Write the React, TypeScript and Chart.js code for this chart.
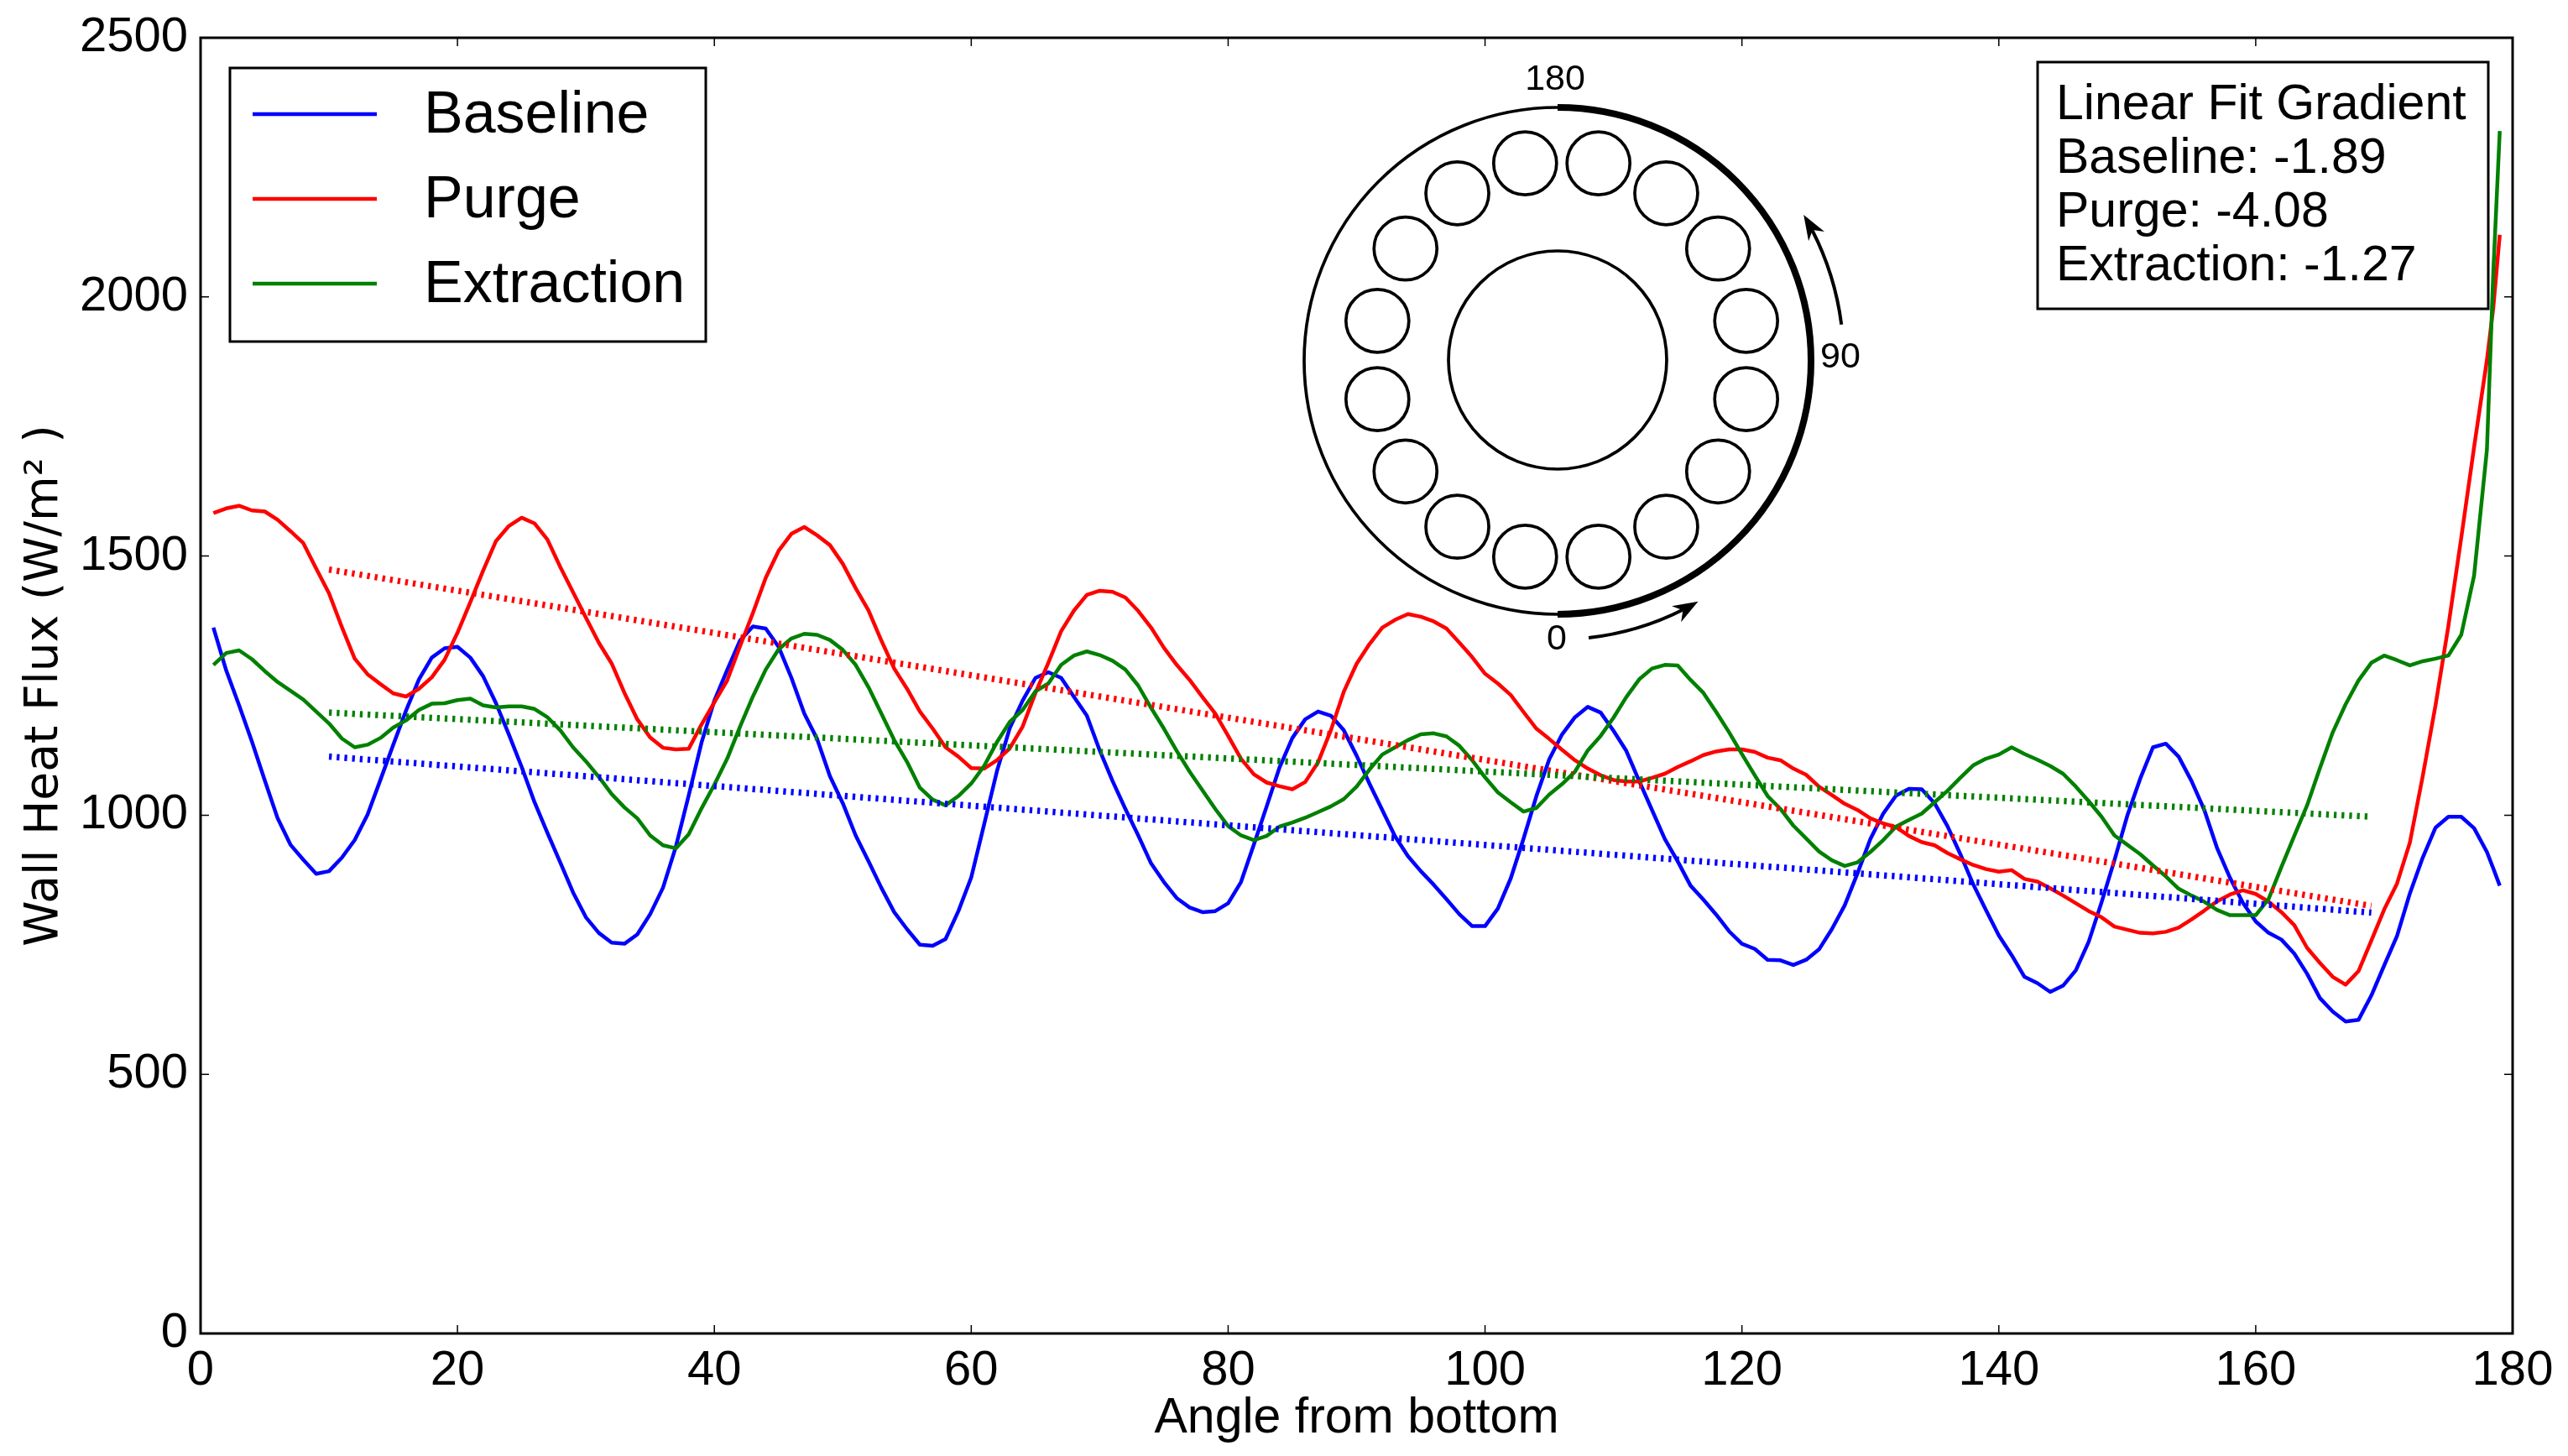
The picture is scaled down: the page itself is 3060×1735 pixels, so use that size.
import { useEffect, useRef } from 'react'
import Chart from 'chart.js/auto'

// angle samples (degrees from bottom)
const ANGLES = [
  1, 2, 3, 4, 5, 6, 7, 8, 9, 10, 11, 12, 13, 14, 15, 16, 17, 18, 19, 20,
  21, 22, 23, 24, 25, 26, 27, 28, 29, 30, 31, 32, 33, 34, 35, 36, 37, 38, 39, 40,
  41, 42, 43, 44, 45, 46, 47, 48, 49, 50, 51, 52, 53, 54, 55, 56, 57, 58, 59, 60,
  61, 62, 63, 64, 65, 66, 67, 68, 69, 70, 71, 72, 73, 74, 75, 76, 77, 78, 79, 80,
  81, 82, 83, 84, 85, 86, 87, 88, 89, 90, 91, 92, 93, 94, 95, 96, 97, 98, 99, 100,
  101, 102, 103, 104, 105, 106, 107, 108, 109, 110, 111, 112, 113, 114, 115, 116, 117, 118, 119, 120,
  121, 122, 123, 124, 125, 126, 127, 128, 129, 130, 131, 132, 133, 134, 135, 136, 137, 138, 139, 140,
  141, 142, 143, 144, 145, 146, 147, 148, 149, 150, 151, 152, 153, 154, 155, 156, 157, 158, 159, 160,
  161, 162, 163, 164, 165, 166, 167, 168, 169, 170, 171, 172, 173, 174, 175, 176, 177, 178, 178.5, 179,
]

const BASELINE = [
  1362, 1279, 1212, 1142, 1067, 994, 943, 914, 887, 892, 918, 952, 1001, 1068, 1136, 1202, 1262, 1304, 1322, 1325,
  1304, 1268, 1216, 1156, 1093, 1025, 966, 909, 851, 803, 773, 754, 752, 770, 809, 860, 939, 1038, 1140, 1221,
  1280, 1337, 1364, 1360, 1325, 1265, 1196, 1147, 1075, 1023, 961, 911, 860, 813, 780, 750, 748, 761, 815, 880,
  982, 1085, 1168, 1221, 1265, 1276, 1265, 1228, 1192, 1125, 1066, 1012, 961, 907, 871, 840, 822, 813, 815, 830,
  871, 943, 1017, 1092, 1149, 1185, 1200, 1192, 1164, 1115, 1061, 1010, 959, 921, 892, 866, 838, 809, 786, 786,
  820, 878, 955, 1037, 1108, 1156, 1189, 1209, 1198, 1163, 1124, 1066, 1010, 954, 911, 864, 837, 808, 776, 752,
  742, 721, 720, 711, 721, 741, 780, 826, 888, 954, 1003, 1038, 1051, 1050, 1023, 979, 925, 867, 817, 768,
  730, 688, 676, 659, 671, 701, 756, 832, 913, 999, 1070, 1131, 1138, 1113, 1066, 1010, 936, 879, 831, 795,
  773, 760, 733, 694, 647, 621, 602, 605, 652, 710, 767, 849, 918, 976, 997, 997, 975, 929, 897, 864,
]

const PURGE = [
  1583, 1592, 1597, 1588, 1586, 1570, 1548, 1525, 1476, 1428, 1363, 1302, 1272, 1253, 1235, 1229, 1244, 1266, 1300, 1352,
  1411, 1472, 1529, 1558, 1574, 1563, 1532, 1479, 1430, 1381, 1333, 1293, 1236, 1185, 1150, 1130, 1127, 1128, 1175, 1218,
  1260, 1326, 1390, 1458, 1510, 1543, 1556, 1540, 1521, 1485, 1438, 1395, 1337, 1283, 1244, 1200, 1167, 1131, 1113, 1091,
  1090, 1106, 1129, 1171, 1236, 1294, 1355, 1395, 1425, 1433, 1431, 1420, 1394, 1362, 1323, 1290, 1261, 1228, 1196, 1153,
  1109, 1079, 1063, 1056, 1050, 1064, 1102, 1164, 1238, 1292, 1330, 1362, 1377, 1388, 1383, 1374, 1360, 1333, 1305, 1273,
  1254, 1232, 1199, 1167, 1147, 1126, 1106, 1090, 1077, 1068, 1065, 1065, 1072, 1080, 1093, 1104, 1116, 1123, 1127, 1127,
  1122, 1111, 1106, 1090, 1078, 1055, 1039, 1022, 1010, 994, 984, 977, 960, 948, 942, 927, 915, 904, 896, 891,
  894, 877, 872, 859, 845, 830, 815, 803, 785, 779, 773, 772, 775, 783, 799, 816, 834, 847, 855, 848,
  833, 813, 788, 744, 715, 688, 673, 699, 758, 818, 868, 947, 1075, 1212, 1365, 1535, 1710, 1878, 1980, 2120,
]

const EXTRACTION = [
  1290, 1313, 1318, 1301, 1278, 1257, 1240, 1223, 1200, 1177, 1148, 1131, 1136, 1149, 1169, 1183, 1203, 1215, 1216, 1222,
  1225, 1212, 1208, 1210, 1210, 1205, 1189, 1164, 1131, 1104, 1074, 1041, 1015, 994, 961, 942, 936, 963, 1013, 1059,
  1109, 1171, 1229, 1281, 1320, 1341, 1350, 1348, 1338, 1319, 1290, 1247, 1196, 1145, 1103, 1053, 1030, 1019, 1037, 1061,
  1095, 1141, 1180, 1203, 1239, 1254, 1290, 1308, 1316, 1309, 1298, 1281, 1250, 1207, 1167, 1124, 1084, 1048, 1012, 979,
  961, 952, 960, 978, 986, 995, 1006, 1017, 1031, 1055, 1088, 1117, 1131, 1145, 1156, 1158, 1152, 1134, 1106, 1073,
  1044, 1025, 1007, 1014, 1040, 1060, 1084, 1125, 1153, 1188, 1228, 1262, 1283, 1290, 1289, 1261, 1236, 1199, 1160, 1118,
  1077, 1037, 1012, 980, 955, 930, 913, 902, 909, 929, 952, 978, 991, 1003, 1025, 1047, 1072, 1096, 1109, 1117,
  1131, 1118, 1107, 1095, 1080, 1055, 1027, 997, 961, 943, 925, 903, 882, 858, 845, 833, 817, 807, 807, 807,
  838, 900, 960, 1019, 1091, 1160, 1214, 1260, 1294, 1308, 1299, 1289, 1297, 1302, 1308, 1348, 1462, 1705, 2050, 2320,
]

// linear fit end points
const FIT_ANGLES = [10, 169]
const BASELINE_FIT = [1113, 812]
const PURGE_FIT = [1474, 825]
const EXTRACTION_FIT = [1198, 997]

const SERIES_LABELS = ['Baseline', 'Purge', 'Extraction']
const SERIES_COLORS = ['#0000ff', '#ff0000', '#008000']
const GRADIENTS = [-1.89, -4.08, -1.27]

const X_TICKS = [0, 20, 40, 60, 80, 100, 120, 140, 160, 180]
const Y_TICKS = [0, 500, 1000, 1500, 2000, 2500]

const SANS = '"Liberation Sans", Arial, sans-serif'

const framePlugin = {
  id: 'frame',
  afterDraw(chart: any) {
    const { ctx, chartArea: a, scales } = chart
    ctx.save()
    ctx.strokeStyle = '#000'
    ctx.lineWidth = 1.5
    ctx.beginPath()
    for (const v of X_TICKS) {
      const px = scales.x.getPixelForValue(v)
      ctx.moveTo(px, a.bottom)
      ctx.lineTo(px, a.bottom - 10)
      ctx.moveTo(px, a.top)
      ctx.lineTo(px, a.top + 10)
    }
    for (const v of Y_TICKS) {
      const py = scales.y.getPixelForValue(v)
      ctx.moveTo(a.left, py)
      ctx.lineTo(a.left + 10, py)
      ctx.moveTo(a.right, py)
      ctx.lineTo(a.right - 10, py)
    }
    ctx.stroke()
    ctx.lineWidth = 3
    ctx.strokeRect(a.left, a.top, a.right - a.left, a.bottom - a.top)
    ctx.restore()
  },
}

function arcArrow(ctx: CanvasRenderingContext2D, cx: number, cy: number, r: number, from: number, to: number) {
  const t0 = (from * Math.PI) / 180
  const t1 = (to * Math.PI) / 180
  const ccw = to < from
  const sgn = ccw ? -1 : 1
  const tip = [cx + r * Math.cos(t1), cy + r * Math.sin(t1)]
  const d = [-Math.sin(t1) * sgn, Math.cos(t1) * sgn]
  const n = [-d[1], d[0]]
  const L = 30
  const W = 11
  ctx.lineWidth = 4
  ctx.beginPath()
  ctx.arc(cx, cy, r, t0, t1 - sgn * ((L * 0.7) / r), ccw)
  ctx.stroke()
  const bx = tip[0] - d[0] * L
  const by = tip[1] - d[1] * L
  ctx.beginPath()
  ctx.moveTo(tip[0], tip[1])
  ctx.lineTo(bx + n[0] * W, by + n[1] * W)
  ctx.lineTo(tip[0] - d[0] * L * 0.7, tip[1] - d[1] * L * 0.7)
  ctx.lineTo(bx - n[0] * W, by - n[1] * W)
  ctx.closePath()
  ctx.fill()
}

// pipe cross-section sketch
const insetPlugin = {
  id: 'inset',
  afterDraw(chart: any) {
    const { ctx, chartArea: a } = chart
    const cx = a.left + 1617
    const cy = a.top + 385
    ctx.save()
    ctx.strokeStyle = '#000'
    ctx.fillStyle = '#000'
    ctx.lineWidth = 3.7
    ctx.beginPath()
    ctx.arc(cx, cy, 302, 0, Math.PI * 2)
    ctx.stroke()
    ctx.lineWidth = 8
    ctx.beginPath()
    ctx.arc(cx, cy, 302, -Math.PI / 2, Math.PI / 2)
    ctx.stroke()
    ctx.lineWidth = 3.7
    ctx.beginPath()
    ctx.arc(cx, cy - 1, 130, 0, Math.PI * 2)
    ctx.stroke()
    for (let k = 0; k < 16; k++) {
      const th = ((11.25 + 22.5 * k) * Math.PI) / 180
      const px = cx + 5 + 224 * Math.sin(th)
      const py = cy - 1 - 239 * Math.cos(th)
      ctx.beginPath()
      ctx.arc(px, py, 37.5, 0, Math.PI * 2)
      ctx.stroke()
    }
    arcArrow(ctx, cx, cy, 332, 83.6, 59.7)
    arcArrow(ctx, cx, cy, 341, -7.3, -30.7)
    ctx.font = `43px ${SANS}`
    ctx.textAlign = 'center'
    ctx.textBaseline = 'middle'
    ctx.fillText('180', cx - 3, cy - 335)
    ctx.fillText('90', cx + 337, cy - 4)
    ctx.fillText('0', cx - 1, cy + 332)
    ctx.restore()
  },
}

const legendPlugin = {
  id: 'boxLegend',
  afterDraw(chart: any) {
    const { ctx, chartArea: a } = chart
    const x0 = a.left + 35
    const y0 = a.top + 36
    ctx.save()
    ctx.fillStyle = '#fff'
    ctx.fillRect(x0, y0, 567, 326)
    ctx.strokeStyle = '#000'
    ctx.lineWidth = 3
    ctx.strokeRect(x0, y0, 567, 326)
    ctx.font = `70px ${SANS}`
    ctx.textBaseline = 'middle'
    ctx.textAlign = 'left'
    SERIES_LABELS.forEach((label, i) => {
      const y = y0 + 55 + i * 101
      ctx.strokeStyle = SERIES_COLORS[i]
      ctx.lineWidth = 4.5
      ctx.beginPath()
      ctx.moveTo(x0 + 27, y)
      ctx.lineTo(x0 + 175, y)
      ctx.stroke()
      ctx.fillStyle = '#000'
      ctx.fillText(label, x0 + 231, y + 3)
    })
    ctx.restore()
  },
}

const gradientPlugin = {
  id: 'gradientBox',
  afterDraw(chart: any) {
    const { ctx, chartArea: a } = chart
    const x0 = a.right - 566
    const y0 = a.top + 29
    ctx.save()
    ctx.fillStyle = '#fff'
    ctx.fillRect(x0, y0, 537, 294)
    ctx.strokeStyle = '#000'
    ctx.lineWidth = 3
    ctx.strokeRect(x0, y0, 537, 294)
    ctx.fillStyle = '#000'
    ctx.font = `59px ${SANS}`
    ctx.textBaseline = 'middle'
    ctx.textAlign = 'left'
    const lines = ['Linear Fit Gradient', ...SERIES_LABELS.map((l, i) => `${l}: ${GRADIENTS[i].toFixed(2)}`)]
    lines.forEach((t, i) => ctx.fillText(t, x0 + 22, y0 + 52 + i * 64))
    ctx.restore()
  },
}

export default function App() {
  const canvasRef = useRef<HTMLCanvasElement>(null)
  const chartRef = useRef<Chart | null>(null)

  useEffect(() => {
    document.body.style.margin = '0'
    document.body.style.overflow = 'hidden'
    if (!canvasRef.current) return
    if (chartRef.current) chartRef.current.destroy()

    const series = [BASELINE, PURGE, EXTRACTION]
    const fits = [BASELINE_FIT, PURGE_FIT, EXTRACTION_FIT]

    const solid = series.map((vals, i) => ({
      label: SERIES_LABELS[i],
      data: ANGLES.map((x, j) => ({ x, y: vals[j] })),
      borderColor: SERIES_COLORS[i],
      backgroundColor: SERIES_COLORS[i],
      borderWidth: 4.5,
      borderJoinStyle: 'round' as const,
      pointRadius: 0,
      tension: 0,
      fill: false,
      order: 6 - i,
    }))
    const dotted = fits.map((vals, i) => ({
      label: `${SERIES_LABELS[i]} fit`,
      data: FIT_ANGLES.map((x, j) => ({ x, y: vals[j] })),
      borderColor: SERIES_COLORS[i],
      backgroundColor: SERIES_COLORS[i],
      borderWidth: 7.5,
      borderDash: [3.3, 5.9],
      borderCapStyle: 'butt' as const,
      pointRadius: 0,
      tension: 0,
      fill: false,
      order: 3 - i,
    }))

    chartRef.current = new Chart(canvasRef.current, {
      type: 'line',
      data: { datasets: [...solid, ...dotted] },
      options: {
        animation: false,
        responsive: false,
        devicePixelRatio: 1,
        layout: { padding: { top: 45, right: 66, bottom: 0, left: 0 } },
        plugins: { legend: { display: false }, tooltip: { enabled: false } },
        scales: {
          x: {
            type: 'linear',
            min: 0,
            max: 180,
            afterFit: (s: any) => { s.height = 146 },
            grid: { display: false },
            border: { display: false },
            ticks: { stepSize: 20, color: '#000', padding: 2, maxRotation: 0, autoSkip: false, font: { family: SANS, size: 58 }, callback: (v: any) => String(v) },
            title: { display: true, text: 'Angle from bottom', color: '#000', font: { family: SANS, size: 59 }, padding: { top: 0, bottom: 9 } },
          },
          y: {
            min: 0,
            max: 2500,
            afterFit: (s: any) => { s.width = 239 },
            grid: { display: false },
            border: { display: false },
            ticks: { stepSize: 500, color: '#000', padding: 7, font: { family: SANS, size: 58 }, callback: (v: any) => String(v) },
            title: { display: true, text: 'Wall Heat Flux (W/m² )', color: '#000', font: { family: '"DejaVu Sans", sans-serif', size: 55 }, padding: { top: 21, bottom: 0 } },
          },
        },
      },
      plugins: [framePlugin, insetPlugin, legendPlugin, gradientPlugin],
    })

    return () => { chartRef.current?.destroy() }
  }, [])

  return (
    <div style={{ width: 3060, height: 1735, background: '#fff' }}>
      <canvas ref={canvasRef} width={3060} height={1735} style={{ display: 'block', width: 3060, height: 1735 }} />
    </div>
  )
}
